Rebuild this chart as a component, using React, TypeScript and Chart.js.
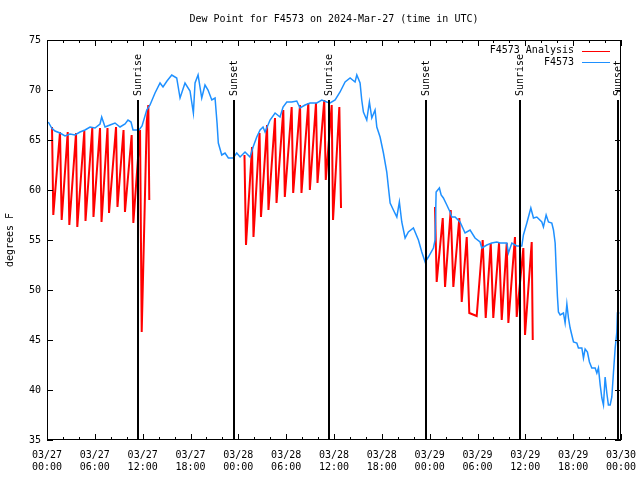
import React, { useEffect, useRef } from 'react';
import { Chart, registerables } from 'chart.js';

Chart.register(...registerables);

const FONT = '"DejaVu Sans Mono", "Liberation Mono", monospace';

const chartTitle = 'Dew Point for F4573 on 2024-Mar-27 (time in UTC)';
const yAxisTitle = 'degrees F';

// x axis: hours since 03/27 00:00 UTC
const xTickHours = [0, 6, 12, 18, 24, 30, 36, 42, 48, 54, 60, 66, 72];
const xTickDates = ['03/27', '03/27', '03/27', '03/27', '03/28', '03/28', '03/28', '03/28', '03/29', '03/29', '03/29', '03/29', '03/30'];
const xTickTimes = ['00:00', '06:00', '12:00', '18:00', '00:00', '06:00', '12:00', '18:00', '00:00', '06:00', '12:00', '18:00', '00:00'];
const yTicks = [35, 40, 45, 50, 55, 60, 65, 70, 75];

const eventHours = [11.36, 23.5, 35.37, 47.53, 59.33, 71.68];
const eventLabels = ['Sunrise', 'Sunset', 'Sunrise', 'Sunset', 'Sunrise', 'Sunset'];

const seriesNames = ['F4573 Analysis', 'F4573'];
const seriesColors = ['#ff0000', '#1e90ff'];

// Observed dew point (F4573)
const blueHours = [
  0.16, 0.59, 1.0, 1.63, 2.26, 2.89, 3.51, 4.14, 4.77, 5.4,
  6.02, 6.65, 6.86, 7.28, 7.9, 8.53, 9.16, 9.79, 10.16, 10.54,
  10.79, 11.54, 11.92, 12.51, 12.92, 13.55, 14.18, 14.55, 15.05, 15.65,
  16.27, 16.69, 17.31, 17.94, 18.36, 18.57, 18.95, 19.41, 19.82, 20.2,
  20.67, 21.08, 21.33, 21.49, 21.92, 22.33, 22.75, 23.34, 23.8, 24.22,
  24.84, 25.47, 25.85, 26.31, 26.73, 27.1, 27.35, 27.98, 28.61, 29.23,
  29.61, 30.08, 30.7, 31.33, 31.74, 32.37, 33.0, 33.84, 34.47, 35.09,
  35.51, 36.14, 36.76, 37.39, 38.02, 38.64, 38.86, 39.27, 39.48, 39.69,
  40.11, 40.44, 40.74, 41.15, 41.37, 41.78, 42.2, 42.62, 42.82, 43.04,
  43.45, 43.88, 44.2, 44.5, 44.92, 45.33, 45.96, 46.59, 47.01, 47.43,
  47.84, 48.47, 48.68, 48.81, 49.22, 49.44, 49.72, 50.15, 50.56, 50.77,
  51.19, 51.81, 52.44, 53.07, 53.69, 54.32, 54.54, 55.17, 55.79, 56.42,
  56.84, 57.68, 57.88, 58.31, 58.93, 59.56, 59.76, 60.19, 60.69, 61.02,
  61.44, 62.07, 62.27, 62.61, 62.9, 63.32, 63.53, 63.74, 63.86, 64.03,
  64.15, 64.37, 64.78, 64.99, 65.21, 65.41, 65.62, 65.83, 66.04, 66.46,
  66.66, 67.09, 67.29, 67.5, 67.79, 68.04, 68.34, 68.76, 68.97, 69.17,
  69.39, 69.6, 69.8, 70.01, 70.22, 70.42, 70.64, 70.85, 71.05, 71.27,
  71.48, 71.55, 71.8,
];
const blueValues = [
  66.8, 66.2, 65.9, 65.7, 65.4, 65.6, 65.5, 65.8, 66.0, 66.3,
  66.2, 66.6, 67.3, 66.3, 66.5, 66.7, 66.3, 66.6, 67.0, 66.8,
  66.0, 66.0, 66.4, 68.0, 68.5, 69.7, 70.7, 70.3, 70.9, 71.5,
  71.2, 69.2, 70.7, 69.9, 67.7, 70.7, 71.5, 69.2, 70.5, 70.0,
  69.0, 69.2, 66.7, 64.7, 63.5, 63.7, 63.2, 63.2, 63.7, 63.3,
  63.8, 63.3, 64.3, 65.3, 66.0, 66.3, 65.8, 67.0, 67.7, 67.3,
  68.3, 68.8, 68.8, 68.9, 68.2, 68.5, 68.7, 68.7, 69.0, 68.8,
  68.7, 69.0, 69.8, 70.8, 71.2, 70.8, 71.5, 70.7, 69.0, 67.8,
  67.0, 68.8, 67.2, 68.0, 66.3, 65.3, 63.7, 61.8, 60.3, 58.7,
  58.0, 57.3, 58.8, 56.8, 55.2, 55.8, 56.2, 55.0, 53.8, 52.8,
  53.3, 54.2, 55.0, 59.8, 60.2, 59.5, 59.2, 58.5, 57.8, 57.3,
  57.3, 56.8, 55.7, 56.0, 55.2, 54.8, 54.2, 54.5, 54.7, 54.8,
  54.7, 54.7, 53.7, 54.7, 54.4, 54.4, 55.5, 56.7, 58.2, 57.2,
  57.3, 56.8, 56.3, 57.5, 56.8, 56.7, 56.0, 54.7, 52.3, 49.3,
  47.8, 47.5, 47.7, 46.7, 48.6, 47.2, 46.2, 45.5, 44.8, 44.7,
  44.2, 44.2, 43.2, 44.1, 43.8, 42.8, 42.2, 42.2, 41.7, 42.2,
  40.5, 39.2, 38.5, 41.3, 39.7, 38.5, 38.5, 39.3, 41.7, 44.2,
  45.8, 47.7, 47.7,
];

// Analysis series (sawtooth), null = no data
const redHours = [
  0.63, 0.79, 1.63, 1.84, 2.6, 2.8, 3.64, 3.8, 4.68, 4.83,
  5.68, 5.83, 6.65, 6.84, 7.59, 7.78, 8.66, 8.84, 9.6, 9.78,
  10.62, 10.83, 11.67, 11.88, 12.51, 12.71, 12.83,
  18,
  24.77, 24.96, 25.72, 25.9, 26.66, 26.84, 27.6, 27.78, 28.6, 28.79,
  29.64, 29.83, 30.69, 30.88, 31.74, 31.92, 32.78, 32.97, 33.74, 33.93,
  34.78, 34.97, 35.71, 35.88, 36.67, 36.88,
  42,
  48.67, 48.88, 49.64, 49.93, 50.64, 50.97, 51.72, 52.02, 52.65, 52.97,
  53.9, 54.65, 55.03, 55.66, 55.98, 56.7, 57.04, 57.67, 57.87, 58.7,
  58.92, 59.75, 59.96, 60.8, 60.93,
];
const redValues = [
  66.3, 57.5, 65.8, 57.0, 65.8, 56.5, 65.7, 56.3, 65.9, 56.9,
  66.2, 57.3, 66.2, 56.8, 66.2, 57.7, 66.3, 58.3, 66.0, 57.8,
  65.5, 56.7, 66.0, 45.8, 66.8, 68.5, 59.0,
  null,
  63.5, 54.5, 64.3, 55.3, 65.7, 57.3, 66.5, 58.0, 67.2, 58.7,
  68.0, 59.3, 68.3, 59.7, 68.5, 59.7, 68.7, 60.0, 68.7, 60.7,
  69.0, 61.0, 68.5, 57.0, 68.3, 58.2,
  null,
  58.3, 50.8, 57.2, 50.3, 58.0, 50.3, 57.2, 48.8, 55.3, 47.7,
  47.4, 55.0, 47.2, 54.7, 47.2, 54.7, 47.0, 54.7, 46.7, 55.3,
  47.3, 54.2, 45.5, 54.8, 45.0,
];

const overlayPlugin = {
  id: 'gnuOverlay',
  afterDatasetsDraw(chart: any) {
    const { ctx, chartArea: a, scales } = chart;
    const x = scales.x;
    const h = a.bottom - a.top;
    ctx.save();
    ctx.strokeStyle = '#000';
    ctx.lineWidth = 2;
    eventHours.forEach((t, i) => {
      const px = Math.round(x.getPixelForValue(t));
      ctx.beginPath();
      ctx.moveTo(px, a.bottom);
      ctx.lineTo(px, a.bottom - 0.85 * h);
      ctx.stroke();
      ctx.save();
      ctx.translate(px + 0.5, a.bottom - 0.86 * h);
      ctx.rotate(-Math.PI / 2);
      ctx.font = `10px ${FONT}`;
      ctx.fillStyle = '#000';
      ctx.textAlign = 'left';
      ctx.textBaseline = 'middle';
      ctx.fillText(eventLabels[i], 0, 0);
      ctx.restore();
    });
    ctx.restore();
  },
  afterDraw(chart: any) {
    const { ctx, chartArea: a, scales } = chart;
    const x = scales.x;
    const y = scales.y;
    ctx.save();
    ctx.strokeStyle = '#000';
    ctx.lineWidth = 1;
    ctx.strokeRect(a.left + 0.5, a.top + 0.5, a.right - a.left - 1, a.bottom - a.top - 1);
    ctx.beginPath();
    for (let t = x.min; t <= x.max; t += 2) {
      const px = Math.round(x.getPixelForValue(t)) + 0.5;
      const len = xTickHours.includes(t) ? 6 : 3;
      ctx.moveTo(px, a.bottom);
      ctx.lineTo(px, a.bottom - len);
      ctx.moveTo(px, a.top);
      ctx.lineTo(px, a.top + len);
    }
    yTicks.forEach((v) => {
      const py = Math.round(y.getPixelForValue(v)) + 0.5;
      ctx.moveTo(a.left, py);
      ctx.lineTo(a.left + 6, py);
      ctx.moveTo(a.right, py);
      ctx.lineTo(a.right - 6, py);
    });
    ctx.stroke();

    ctx.fillStyle = '#000';
    ctx.font = `10px ${FONT}`;
    ctx.textAlign = 'center';
    ctx.textBaseline = 'middle';
    ctx.fillText(chartTitle, (a.left + a.right) / 2, 19);
    ctx.save();
    ctx.translate(10, (a.top + a.bottom) / 2);
    ctx.rotate(-Math.PI / 2);
    ctx.fillText(yAxisTitle, 0, 0);
    ctx.restore();
    ctx.textAlign = 'right';
    seriesNames.forEach((name, i) => {
      const ly = a.top + 10.5 + i * 11.5;
      ctx.fillStyle = '#000';
      ctx.fillText(name, a.right - 47, ly);
      ctx.strokeStyle = seriesColors[i];
      ctx.lineWidth = 1;
      ctx.beginPath();
      ctx.moveTo(a.right - 39, Math.round(ly) + 0.5);
      ctx.lineTo(a.right - 11, Math.round(ly) + 0.5);
      ctx.stroke();
    });
    ctx.restore();
  },
};

export default function App() {
  const ref = useRef<HTMLCanvasElement>(null);
  useEffect(() => {
    if (!ref.current) return;
    const blueData = blueHours.map((t, i) => ({ x: t, y: blueValues[i] }));
    const redData = redHours.map((t, i) => ({ x: t, y: redValues[i] }));
    const chart = new Chart(ref.current, {
      type: 'line',
      data: {
        datasets: [
          {
            label: seriesNames[0],
            data: redData as any,
            borderColor: seriesColors[0],
            borderWidth: 2,
            pointRadius: 0,
            tension: 0,
            spanGaps: false,
            order: 2,
          },
          {
            label: seriesNames[1],
            data: blueData,
            borderColor: seriesColors[1],
            borderWidth: 1.5,
            pointRadius: 0,
            tension: 0,
            order: 1,
          },
        ],
      },
      plugins: [overlayPlugin],
      options: {
        responsive: false,
        animation: false,
        devicePixelRatio: 1,
        layout: { padding: { top: 40, right: 19, left: 0, bottom: 0 } },
        plugins: {
          legend: { display: false },
          title: { display: false },
          tooltip: { enabled: false },
        },
        scales: {
          x: {
            type: 'linear',
            min: 0,
            max: 72,
            grid: { display: false, drawTicks: false },
            border: { display: false },
            ticks: {
              stepSize: 6,
              autoSkip: false,
              maxRotation: 0,
              padding: 9,
              color: '#000',
              font: { family: FONT, size: 10 },
              callback: (v: any) => {
                const i = xTickHours.indexOf(Number(v));
                return i >= 0 ? [xTickDates[i], xTickTimes[i]] : '';
              },
            },
            afterFit: (s: any) => {
              s.height = 40;
              s.paddingLeft = 0;
              s.paddingRight = 0;
            },
          },
          y: {
            type: 'linear',
            min: 35,
            max: 75,
            grid: { display: false, drawTicks: false },
            border: { display: false },
            ticks: {
              stepSize: 5,
              padding: 6,
              color: '#000',
              font: { family: FONT, size: 10 },
            },
            afterFit: (s: any) => {
              s.width = 47;
              s.paddingTop = 0;
              s.paddingBottom = 0;
            },
          },
        },
      },
    });
    return () => chart.destroy();
  }, []);
  return (
    <div style={{ position: 'absolute', left: 0, top: 0, width: 640, height: 480, background: '#fff' }}>
      <canvas ref={ref} width={640} height={480} />
    </div>
  );
}
